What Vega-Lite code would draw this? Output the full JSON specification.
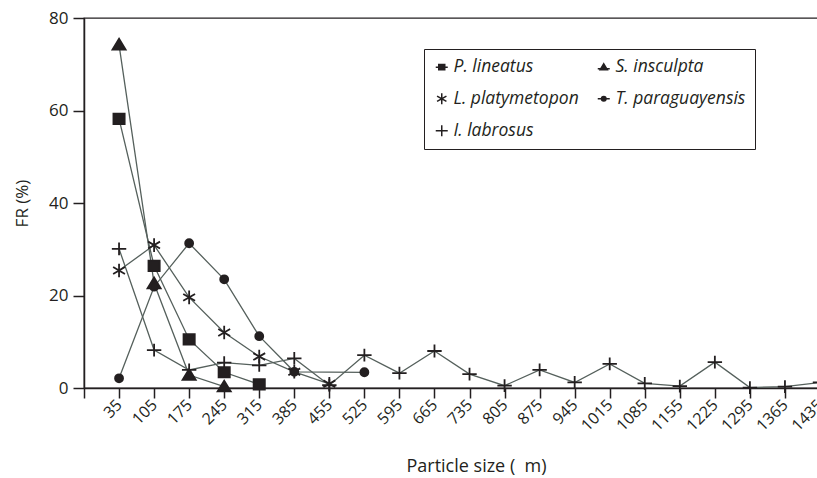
{
  "$schema": "https://vega.github.io/schema/vega-lite/v6.json",
  "width": 736,
  "height": 370,
  "autosize": {"type": "none"},
  "padding": {"left": 84, "top": 18, "right": 0, "bottom": 90},
  "background": "white",
  "config": {
    "font": "Open Sans",
    "view": {"stroke": "#231f20", "strokeWidth": 1.3},
    "axis": {
      "domainColor": "#231f20", "domainWidth": 1.5,
      "tickColor": "#231f20", "tickWidth": 1.5,
      "labelColor": "#231f20", "titleColor": "#231f20",
      "labelFont": "Open Sans", "titleFont": "Open Sans",
      "titleFontWeight": "normal", "grid": false
    }
  },
  "data": {"values": [
    {"species": "P. lineatus", "size": 35, "fr": 58.2},
    {"species": "P. lineatus", "size": 105, "fr": 26.4},
    {"species": "P. lineatus", "size": 175, "fr": 10.5},
    {"species": "P. lineatus", "size": 245, "fr": 3.4},
    {"species": "P. lineatus", "size": 315, "fr": 0.8},
    {"species": "S. insculpta", "size": 35, "fr": 74.2},
    {"species": "S. insculpta", "size": 105, "fr": 22.6},
    {"species": "S. insculpta", "size": 175, "fr": 2.8},
    {"species": "S. insculpta", "size": 245, "fr": 0.3},
    {"species": "L. platymetopon", "size": 35, "fr": 25.4},
    {"species": "L. platymetopon", "size": 105, "fr": 30.9},
    {"species": "L. platymetopon", "size": 175, "fr": 19.6},
    {"species": "L. platymetopon", "size": 245, "fr": 12.0},
    {"species": "L. platymetopon", "size": 315, "fr": 6.8},
    {"species": "L. platymetopon", "size": 385, "fr": 3.5},
    {"species": "L. platymetopon", "size": 455, "fr": 0.9},
    {"species": "T. paraguayensis", "size": 35, "fr": 2.1},
    {"species": "T. paraguayensis", "size": 105, "fr": 21.9},
    {"species": "T. paraguayensis", "size": 175, "fr": 31.3},
    {"species": "T. paraguayensis", "size": 245, "fr": 23.5},
    {"species": "T. paraguayensis", "size": 315, "fr": 11.2},
    {"species": "T. paraguayensis", "size": 385, "fr": 3.5},
    {"species": "T. paraguayensis", "size": 525, "fr": 3.4},
    {"species": "I. labrosus", "size": 35, "fr": 30.1},
    {"species": "I. labrosus", "size": 105, "fr": 8.2},
    {"species": "I. labrosus", "size": 175, "fr": 3.9},
    {"species": "I. labrosus", "size": 245, "fr": 5.5},
    {"species": "I. labrosus", "size": 315, "fr": 4.9},
    {"species": "I. labrosus", "size": 385, "fr": 6.4},
    {"species": "I. labrosus", "size": 455, "fr": 0.6},
    {"species": "I. labrosus", "size": 525, "fr": 7.1},
    {"species": "I. labrosus", "size": 595, "fr": 3.2},
    {"species": "I. labrosus", "size": 665, "fr": 8.0},
    {"species": "I. labrosus", "size": 735, "fr": 3.0},
    {"species": "I. labrosus", "size": 805, "fr": 0.5},
    {"species": "I. labrosus", "size": 875, "fr": 3.9},
    {"species": "I. labrosus", "size": 945, "fr": 1.2},
    {"species": "I. labrosus", "size": 1015, "fr": 5.2},
    {"species": "I. labrosus", "size": 1085, "fr": 1.0},
    {"species": "I. labrosus", "size": 1155, "fr": 0.4},
    {"species": "I. labrosus", "size": 1225, "fr": 5.6},
    {"species": "I. labrosus", "size": 1295, "fr": 0.1},
    {"species": "I. labrosus", "size": 1365, "fr": 0.3},
    {"species": "I. labrosus", "size": 1435, "fr": 1.2}
  ]},
  "encoding": {
    "x": {
      "field": "size", "type": "quantitative",
      "scale": {"domain": [-35, 1435], "nice": false, "zero": false},
      "axis": {
        "title": "Particle size ( \u00a0m)",
        "values": [-35, 35, 105, 175, 245, 315, 385, 455, 525, 595, 665, 735, 805, 875, 945, 1015, 1085, 1155, 1225, 1295, 1365, 1435],
        "labelExpr": "datum.value < 0 ? '' : datum.label",
        "labelAngle": -45, "labelAlign": "right", "labelBaseline": "middle",
        "labelFontSize": 16, "labelPadding": 4, "tickSize": 10,
        "labelOverlap": false, "format": "d",
        "titleFontSize": 18, "titleX": 392, "titleY": 83, "titleBaseline": "alphabetic"
      }
    },
    "y": {
      "field": "fr", "type": "quantitative",
      "scale": {"domain": [0, 80], "nice": false},
      "axis": {
        "title": "FR (%)",
        "values": [0, 20, 40, 60, 80],
        "labelFontSize": 17, "labelPadding": 5, "tickSize": 11,
        "titleFontSize": 17, "titleX": -57, "titleBaseline": "alphabetic"
      }
    }
  },
  "resolve": {"scale": {"shape": "independent"}, "legend": {"shape": "independent"}},
  "layer": [
    {
      "mark": {"type": "line", "color": "#55605c", "strokeWidth": 1.3},
      "encoding": {"detail": {"field": "species"}}
    },
    {
      "mark": {"type": "point", "filled": false, "fill": "#231f20", "stroke": "#231f20", "strokeWidth": 1.8, "size": 256, "opacity": 1, "fillOpacity": 1, "strokeOpacity": 1},
      "encoding": {
        "shape": {
          "field": "species", "type": "nominal",
          "scale": {
            "domain": ["P. lineatus", "L. platymetopon", "I. labrosus", "S. insculpta", "T. paraguayensis"],
            "range": [
              "M-0.7,-0.65H0.7V0.65H-0.7Z",
              "M0,-0.85V0.85M-0.74,-0.43L0.74,0.43M-0.74,0.43L0.74,-0.43",
              "M-0.9,0H0.9M0,-0.8V0.8",
              "M0,-0.75L0.82,0.6H-0.82Z",
              "M-0.5,0A0.5,0.5 0 1,0 0.5,0A0.5,0.5 0 1,0 -0.5,0Z"
            ]
          },
          "legend": null
        }
      }
    },
    {
      "transform": [{"filter": "false"}],
      "mark": {"type": "point", "filled": false, "fill": "#231f20", "stroke": "#231f20", "strokeWidth": 1.5, "opacity": 1, "fillOpacity": 1, "strokeOpacity": 1},
      "encoding": {
        "shape": {
          "field": "species", "type": "nominal",
          "scale": {
            "domain": ["P. lineatus", "L. platymetopon", "I. labrosus", "S. insculpta", "T. paraguayensis"],
            "range": [
              "M-1,0H1M-0.5,-0.45H0.5V0.45H-0.5Z",
              "M0,-0.9V0.9M-0.78,-0.45L0.78,0.45M-0.78,0.45L0.78,-0.45",
              "M-1,0H1M0,-0.9V0.9",
              "M-1,0.25H1M0,-0.55L0.6,0.45H-0.6Z",
              "M-1,0H1M-0.38,0A0.38,0.38 0 1,0 0.38,0A0.38,0.38 0 1,0 -0.38,0Z"
            ]
          },
          "legend": {
            "title": null,
            "orient": "none", "legendX": 340, "legendY": 31,
            "columns": 2, "gridAlign": "all",
            "padding": 9, "rowPadding": 13, "columnPadding": 10,
            "strokeColor": "#231f20", "fillColor": "white",
            "labelFont": "Open Sans", "labelFontStyle": "italic", "labelFontSize": 17.5, "labelColor": "#231f20",
            "labelOffset": 3, "labelLimit": 300,
            "symbolSize": 144, "symbolStrokeWidth": 1.5
          }
        }
      }
    }
  ]
}
